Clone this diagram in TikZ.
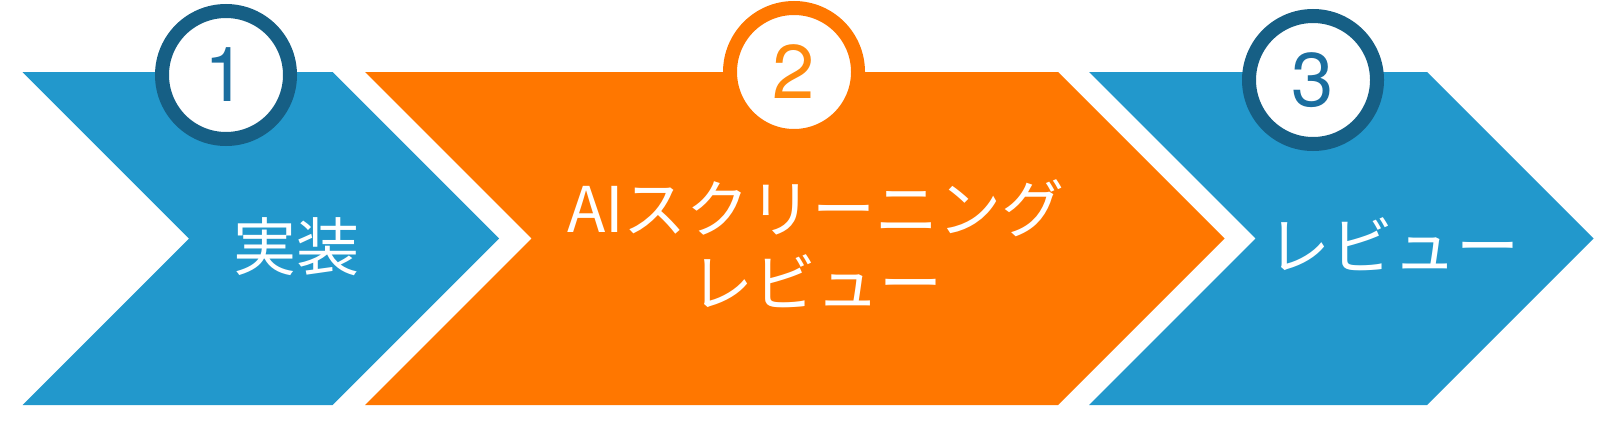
\documentclass[tikz,border=0pt]{standalone}
\usepackage{fontspec}
\newfontfamily\jpfont{Noto Sans CJK JP}
\newfontfamily\numfont{TeX Gyre Heros}
\definecolor{stepblue}{HTML}{2298CC}
\definecolor{ringblue}{HTML}{165F85}
\definecolor{steporange}{HTML}{FF7700}
\definecolor{numblue}{HTML}{1B6E9F}
\definecolor{numorange}{HTML}{FF8A0D}
\tikzset{
  numring/.style={circle, draw=#1, line width=14pt, fill=white, minimum size=128pt, inner sep=0pt},
  numtext/.style={text=#1, font=\numfont\fontsize{76}{76}\selectfont},
  steptext/.style={text=white, align=center, font=\jpfont\fontsize{63}{74}\selectfont},
}
\begin{document}
\begin{tikzpicture}[x=1pt,y=-1pt]
  \useasboundingbox (0,0) rectangle (1600,423);
  % chevrons
  \fill[stepblue] (22.5,72) -- (332.5,72) -- (499,238.5) -- (332.5,405) -- (22.5,405) -- (189,238.5) -- cycle;
  \fill[steporange] (365,72) -- (1058,72) -- (1224.5,238.5) -- (1058,405) -- (365,405) -- (531.5,238.5) -- cycle;
  \fill[stepblue] (1089,72) -- (1427,72) -- (1593.5,238.5) -- (1427,405) -- (1089,405) -- (1255.5,238.5) -- cycle;
  % numbers
  \node[numring=ringblue] (ring1) at (226,75) {};
  \node[numtext=numblue] (num1) at (ring1) {1};
  \node[numring=steporange] (ring2) at (794,72) {};
  \node[numtext=numorange] (num2) at (ring2) {2};
  \node[numring=ringblue] (ring3) at (1313,80) {};
  \node[numtext=numblue] (num3) at (ring3) {3};
  % labels
  \node[steptext] (impl) at (296,247) {実装};
  \node[steptext] (screen) at (816,244) {AIスクリーニング\\レビュー};
  \node[steptext] (review) at (1393,244) {レビュー};
\end{tikzpicture}
\end{document}
